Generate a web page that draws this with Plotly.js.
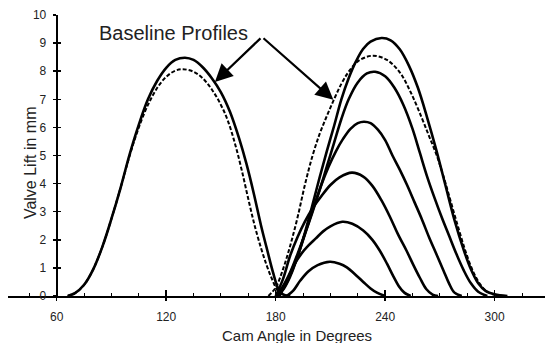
<!DOCTYPE html>
<html>
<head>
<meta charset="utf-8">
<script src="https://cdn.plot.ly/plotly-3.0.1.min.js"></script>
<style>html,body{margin:0;padding:0;background:#fff;}#chart{width:545px;height:343px;}</style>
</head>
<body>
<div id="chart"></div>
<script>
// ---- data (cam angle in degrees, valve lift in mm) ----
// left group (baseline pair)
const angleL1 = [66,70,75,80,85,90,95,100,105,110,115,120,125,130.3,135,140,145,150,155,160,164,168,172,175.5,178.5,181.5,184,188];
const liftL1  = [0,0.1,0.4,0.95,1.75,2.75,3.85,5.05,6.1,7.0,7.65,8.12,8.4,8.48,8.4,8.14,7.75,7.25,6.55,5.6,4.7,3.65,2.5,1.6,0.85,0.25,0.06,0];
const angleL2 = [66,70,75,80,85,90,95,100,105,110,115,120,125,129.2,135,140,145,150,154,158,161.5,165,168.5,172,175,178,181,184,188];
const liftL2  = [0,0.1,0.4,0.95,1.75,2.75,3.85,5.0,6.0,6.8,7.4,7.8,8.02,8.07,7.98,7.75,7.35,6.8,6.2,5.35,4.45,3.45,2.5,1.7,1.1,0.6,0.2,0.04,0];
// right group
const angleA = [180,184,188,192,196,200,204,208,212,216,220,224,228,232,238,243,248,253,258,263,268,273,278,283,287,291,295,300,307];
const liftA  = [0,0.22,0.7,1.4,2.25,3.2,4.2,5.15,6.05,7.0,7.75,8.35,8.8,9.05,9.18,9.1,8.78,8.2,7.4,6.35,5.2,3.95,2.7,1.65,0.95,0.45,0.18,0.06,0];
const angleB = [176,180,184,188,192,196,200,204,208,212,216,220,225,233,241,248,254,260,264,268,272,276,280,284,288,292,296,300,305];
const liftB  = [0,0.3,0.95,1.8,2.8,3.95,4.95,5.75,6.4,7.0,7.55,7.98,8.35,8.55,8.4,7.96,7.25,6.35,5.7,5.05,4.25,3.35,2.45,1.6,0.9,0.42,0.15,0.04,0];
const angleC = [180,184,188,192,196,200,204,208,212,216,220,225,230,234.5,240,245,250,255,259,263,267,271,275,279,283,287,291,296];
const liftC  = [0,0.35,0.85,1.5,2.2,2.95,3.75,4.6,5.45,6.3,7.0,7.6,7.92,7.98,7.82,7.42,6.8,5.95,5.1,4.25,3.5,2.8,2.15,1.5,0.92,0.45,0.15,0];
const angleD = [181,185,189,193,197,201,205,209,213,217,221,225,228.4,232,236,240,244,248,252,256,260,264,268,272,275,278,282];
const liftD  = [0,0.35,0.9,1.6,2.4,3.2,3.95,4.6,5.15,5.6,5.95,6.15,6.2,6.15,5.92,5.55,5.0,4.5,3.95,3.35,2.75,2.1,1.5,0.9,0.45,0.12,0];
const angleE = [180,184,188,192,196,200,205,210,215,221.8,228,233,238,242.6,247,251.8,255.5,259,262.5,266,269];
const liftE  = [0,0.6,1.45,2.1,2.65,3.1,3.55,3.95,4.22,4.39,4.25,3.92,3.4,2.82,2.2,1.6,1.1,0.65,0.25,0.05,0];
const angleF = [182,186,190,194,198,202,206,210,216.5,222,228,233,237,241,244.5,247.5,250.5,254];
const liftF  = [0,0.5,1.1,1.5,1.8,2.05,2.3,2.48,2.64,2.57,2.33,2.0,1.62,1.15,0.7,0.35,0.12,0];
const angleG = [186,189.5,193.5,198,203,209.7,215,219,223,228,232,235.5,240];
const liftG  = [0,0.18,0.55,0.88,1.1,1.22,1.15,1.02,0.8,0.5,0.27,0.12,0];

const xTickVals = [60,120,180,240,300];
const yTickVals = [0,1,2,3,4,5,6,7,8,9,10];
const xTitle = "Cam Angle in Degrees";
const yTitle = "Valve Lift in mm";
const calloutText = "Baseline Profiles";

// ---- styling ----
const series = [
  {x: angleL1, y: liftL1, baseline: false},
  {x: angleL2, y: liftL2, baseline: true},
  {x: angleA, y: liftA, baseline: false},
  {x: angleB, y: liftB, baseline: true},
  {x: angleC, y: liftC, baseline: false},
  {x: angleD, y: liftD, baseline: false},
  {x: angleE, y: liftE, baseline: false},
  {x: angleF, y: liftF, baseline: false},
  {x: angleG, y: liftG, baseline: false}
];

const traces = series.map(s => ({
  type: 'scatter', mode: 'lines', x: s.x, y: s.y, hoverinfo: 'skip',
  line: s.baseline
    ? {color: '#000', width: 2, dash: '4px,2px', shape: 'spline', smoothing: 1}
    : {color: '#000', width: 2.6, shape: 'spline', smoothing: 1}
}));
// helper traces so the overlay axes (inner half of crossing ticks) are drawn
traces.push({type:'scatter', mode:'lines', x:[null], y:[null], xaxis:'x2', yaxis:'y', hoverinfo:'skip'});
traces.push({type:'scatter', mode:'lines', x:[null], y:[null], xaxis:'x', yaxis:'y2', hoverinfo:'skip'});

const xRange = [33.3, 327.6];
const yRange = [0, 10];
const yPos = 0.0907;
const fontFam = '"Liberation Sans", Arial, Helvetica, sans-serif';

const layout = {
  width: 545, height: 343,
  margin: {l: 8, r: 0, t: 15, b: 47, pad: 0},
  paper_bgcolor: '#fff', plot_bgcolor: '#fff',
  showlegend: false,
  font: {family: fontFam, color: '#222', size: 12},
  xaxis: {
    range: xRange, tickmode: 'array', tickvals: xTickVals, ticktext: xTickVals.map(String),
    showline: true, linecolor: '#000', linewidth: 2,
    ticks: 'outside', ticklen: 3, tickwidth: 1.5, tickcolor: '#000',
    showgrid: false, zeroline: false, tickfont: {size: 12, color: '#222'},
    ticklabelstandoff: 6, fixedrange: true
  },
  xaxis2: {
    overlaying: 'x', anchor: 'y', side: 'bottom', range: xRange,
    tick0: 0, dtick: 60, ticks: 'inside', ticklen: 6, tickwidth: 1.5, tickcolor: '#000',
    minor: {tick0: 0, dtick: 15, ticks: 'inside', ticklen: 3, tickwidth: 1, tickcolor: '#000'},
    showticklabels: false, showline: false, showgrid: false, zeroline: false, fixedrange: true
  },
  yaxis: {
    range: yRange, anchor: 'free', position: yPos, tickmode: 'array', tickvals: yTickVals,
    showline: true, linecolor: '#000', linewidth: 2,
    ticks: 'outside', ticklen: 3, tickwidth: 1.5, tickcolor: '#000',
    showgrid: false, zeroline: false, tickfont: {size: 12, color: '#222'},
    ticklabelstandoff: 4, fixedrange: true
  },
  yaxis2: {
    overlaying: 'y', anchor: 'free', position: yPos, range: yRange, dtick: 1,
    ticks: 'inside', ticklen: 3, tickwidth: 1.5, tickcolor: '#000',
    showticklabels: false, showline: false, showgrid: false, zeroline: false, fixedrange: true
  },
  annotations: [
    {xref: 'x', yref: 'y', x: 82.1, y: 9.36, text: calloutText, showarrow: false,
     xanchor: 'left', yanchor: 'middle', font: {family: fontFam, size: 20, color: '#222'}},
    {xref: 'x', yref: 'y', x: 146.7, y: 7.62, axref: 'x', ayref: 'y', ax: 172.5, ay: 9.22,
     text: '', showarrow: true, arrowhead: 2, arrowsize: 1.6, arrowwidth: 2.2, arrowcolor: '#000'},
    {xref: 'x', yref: 'y', x: 211.6, y: 6.98, axref: 'x', ayref: 'y', ax: 172.5, ay: 9.22,
     text: '', showarrow: true, arrowhead: 2, arrowsize: 1.6, arrowwidth: 2.2, arrowcolor: '#000'},
    {xref: 'paper', yref: 'paper', x: 0.538, y: -0.139, text: xTitle, showarrow: false,
     xanchor: 'center', yanchor: 'middle', font: {family: fontFam, size: 15, color: '#222'}},
    {xref: 'paper', yref: 'paper', x: 0.041, y: 0.473, text: yTitle, showarrow: false, textangle: -90,
     xanchor: 'center', yanchor: 'middle', font: {family: fontFam, size: 16, color: '#222'}}
  ]
};

Plotly.newPlot('chart', traces, layout, {staticPlot: true, displayModeBar: false});
</script>
</body>
</html>
